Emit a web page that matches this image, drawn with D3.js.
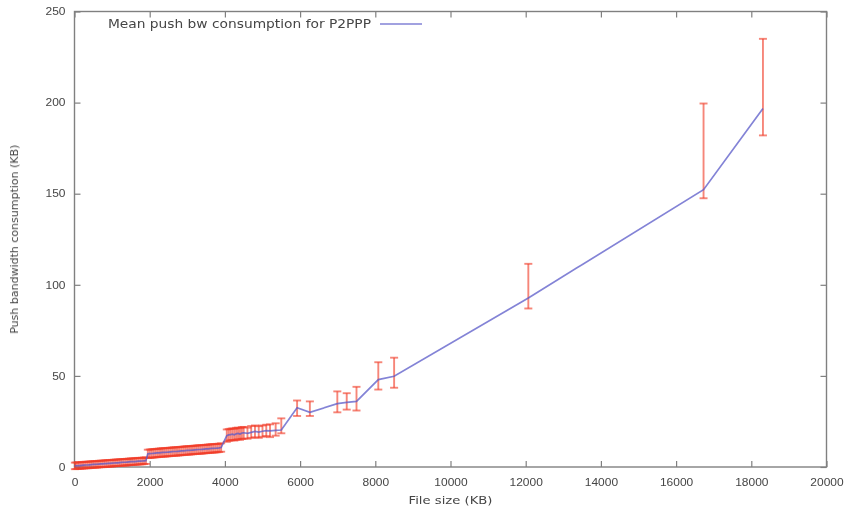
<!DOCTYPE html>
<html>
<head>
<meta charset="utf-8">
<script src="https://cdn.jsdelivr.net/npm/d3@7"></script>
<style>
    body { margin: 0; background: #fff; }
    svg { display: block; font-family: "DejaVu Sans", sans-serif; }
</style>
</head>
<body>
<svg id="chart"></svg>
<script>
// file sizes (KB) and push bandwidth (KB): mean, lower and upper end of the error bar
const fileSize = [
    10, 50, 100, 150, 200, 250, 300, 350, 400, 450, 500, 550, 600, 650, 700, 750, 800, 850, 900, 950,
    1000, 1050, 1100, 1150, 1200, 1250, 1300, 1350, 1400, 1450, 1500, 1550, 1600, 1650, 1700, 1750, 1800, 1850, 1900,
    1950, 2000, 2050, 2100, 2150, 2200, 2250, 2300, 2350, 2400, 2450, 2500, 2550, 2600, 2650, 2700, 2750, 2800, 2850, 2900,
    2950, 3000, 3050, 3100, 3150, 3200, 3250, 3300, 3350, 3400, 3450, 3500, 3550, 3600, 3650, 3700, 3750, 3800, 3850, 3900,
    4050, 4100, 4150, 4200, 4250, 4300, 4350, 4400, 4450, 4500, 4600, 4700, 4800, 4900, 5000, 5100, 5200, 5350, 5500,
    5920, 6260, 6990, 7240, 7500, 8080, 8500, 12070, 16730, 18310
];
const meanBw = [
    0.6, 0.7, 0.8, 0.8, 0.9, 1.0, 1.1, 1.1, 1.2, 1.3, 1.4, 1.4, 1.5, 1.6, 1.7, 1.7, 1.8, 1.9, 2.0, 2.0,
    2.1, 2.2, 2.3, 2.3, 2.4, 2.5, 2.6, 2.6, 2.7, 2.8, 2.9, 2.9, 3.0, 3.1, 3.2, 3.2, 3.3, 3.4, 3.5,
    7.2, 7.3, 7.4, 7.5, 7.6, 7.7, 7.8, 7.9, 8.0, 8.0, 8.1, 8.2, 8.3, 8.4, 8.5, 8.5, 8.6, 8.7, 8.8, 8.9,
    9.0, 9.1, 9.1, 9.2, 9.3, 9.4, 9.5, 9.6, 9.6, 9.7, 9.8, 9.9, 10.0, 10.1, 10.2, 10.2, 10.3, 10.4, 10.5, 10.7,
    17.2, 17.6, 17.8, 18.0, 17.7, 18.2, 18.4, 18.1, 18.6, 18.8, 18.5, 19.0, 19.5, 19.2, 19.6, 20.0, 19.8, 20.1, 20.3,
    32.5, 30.0, 34.8, 35.5, 36.0, 48.0, 49.8, 92.8, 152.2, 196.7
];
const lowBw = [
    -1.2, -1.1, -1.0, -1.0, -0.9, -0.8, -0.7, -0.7, -0.6, -0.5, -0.4, -0.4, -0.3, -0.2, -0.1, -0.1, 0.0, 0.1, 0.2, 0.2,
    0.3, 0.4, 0.5, 0.5, 0.6, 0.7, 0.8, 0.8, 0.9, 1.0, 1.1, 1.1, 1.2, 1.3, 1.4, 1.4, 1.5, 1.6, 1.7,
    4.9, 5.0, 5.1, 5.2, 5.3, 5.4, 5.5, 5.6, 5.7, 5.7, 5.8, 5.9, 6.0, 6.1, 6.2, 6.2, 6.3, 6.4, 6.5, 6.6,
    6.7, 6.8, 6.8, 6.9, 7.0, 7.1, 7.2, 7.3, 7.3, 7.4, 7.5, 7.6, 7.7, 7.8, 7.9, 7.9, 8.0, 8.1, 8.2, 8.4,
    13.8, 14.4, 14.6, 14.8, 14.5, 15.0, 15.2, 14.9, 15.4, 15.6, 15.5, 16.0, 16.3, 16.0, 16.6, 17.0, 16.4, 17.2, 18.5,
    28.0, 28.0, 30.0, 31.5, 31.0, 42.5, 43.5, 87.0, 147.5, 182.0
];
const highBw = [
    2.4, 2.5, 2.6, 2.6, 2.7, 2.8, 2.9, 2.9, 3.0, 3.1, 3.2, 3.2, 3.3, 3.4, 3.5, 3.5, 3.6, 3.7, 3.8, 3.8,
    3.9, 4.0, 4.1, 4.1, 4.2, 4.3, 4.4, 4.4, 4.5, 4.6, 4.7, 4.7, 4.8, 4.9, 5.0, 5.0, 5.1, 5.2, 5.3,
    9.5, 9.6, 9.7, 9.8, 9.9, 10.0, 10.1, 10.2, 10.3, 10.3, 10.4, 10.5, 10.6, 10.7, 10.8, 10.8, 10.9, 11.0, 11.1, 11.2,
    11.3, 11.4, 11.4, 11.5, 11.6, 11.7, 11.8, 11.9, 11.9, 12.0, 12.1, 12.2, 12.3, 12.4, 12.5, 12.5, 12.6, 12.7, 12.8, 13.0,
    20.6, 20.8, 21.0, 21.2, 21.0, 21.5, 21.6, 21.3, 21.9, 22.0, 21.6, 22.5, 22.8, 22.4, 22.8, 23.2, 23.4, 24.0, 26.7,
    36.5, 36.0, 41.5, 40.5, 44.0, 57.5, 60.0, 111.5, 199.5, 235.0
];

const xTicks = [0, 2000, 4000, 6000, 8000, 10000, 12000, 14000, 16000, 18000, 20000];
const yTicks = [0, 50, 100, 150, 200, 250];
const seriesName = "Mean push bw consumption for P2PPP";

const width = 855;
const height = 514;
const margin = {top: 11.5, right: 28.5, bottom: 47, left: 74.5};
const stretch = 1.2; // the picture is a bit wider than tall

const points = fileSize.map((s, i) => ({x: s, y: meanBw[i], lo: lowBw[i], hi: highBw[i]}));

const root = d3.select("#chart")
    .attr("width", width)
    .attr("height", height);

// the reference is a soft, slightly blurred scan
root.append("defs").append("filter").attr("id", "soft")
    .append("feGaussianBlur").attr("stdDeviation", 0.45);

const svg = root.append("g").attr("filter", "url(#soft)");

const x = d3.scaleLinear().domain([0, 20000]).range([margin.left, width - margin.right]);
const y = d3.scaleLinear().domain([0, 250]).range([height - margin.bottom, margin.top]);

const tickColor = "#808080";
const textColor = "#454545";

// axes, ticks pointing inwards on all four sides
function styleAxis(g) {
    g.select(".domain").remove();
    g.selectAll(".tick line").attr("stroke", tickColor).attr("stroke-width", 1.2);
    g.selectAll(".tick text")
        .attr("fill", textColor)
        .style("font-size", "10px");
}

svg.append("g")
    .attr("transform", `translate(0,${y(0)})`)
    .call(d3.axisBottom(x).tickValues(xTicks).tickFormat(d3.format("d")).tickSizeInner(-6).tickSizeOuter(0).tickPadding(12))
    .call(styleAxis)
    .call(g => g.selectAll(".tick text").attr("transform", `scale(${stretch},1)`));

svg.append("g")
    .attr("transform", `translate(${x(0)},0)`)
    .call(d3.axisLeft(y).tickValues(yTicks).tickSizeInner(-6).tickSizeOuter(0).tickPadding(7.5))
    .call(styleAxis)
    .call(g => g.selectAll(".tick text").attr("transform", `scale(${stretch},1)`));

svg.append("g")
    .attr("transform", `translate(0,${y(250)})`)
    .call(d3.axisTop(x).tickValues(xTicks).tickFormat("").tickSizeInner(-6).tickSizeOuter(0))
    .call(styleAxis);

svg.append("g")
    .attr("transform", `translate(${x(20000)},0)`)
    .call(d3.axisRight(y).tickValues(yTicks).tickFormat("").tickSizeInner(-6).tickSizeOuter(0))
    .call(styleAxis);

// frame
svg.append("rect")
    .attr("x", x(0))
    .attr("y", y(250))
    .attr("width", x(20000) - x(0))
    .attr("height", y(0) - y(250))
    .attr("fill", "none")
    .attr("stroke", tickColor)
    .attr("stroke-width", 1.4);

// axis titles
svg.append("text")
    .attr("transform", `translate(${(x(0) + x(20000)) / 2},${height - 10}) scale(${stretch},1)`)
    .attr("text-anchor", "middle")
    .attr("fill", textColor)
    .style("font-size", "11px")
    .text("File size (KB)");

svg.append("text")
    .attr("transform", `translate(18,${(y(0) + y(250)) / 2}) rotate(-90)`)
    .attr("text-anchor", "middle")
    .attr("fill", textColor)
    .style("font-size", "11px")
    .text("Push bandwidth consumption (KB)");

// error bars
const errColor = "#f03c28";
const capW = 4;
const bars = svg.append("g")
    .attr("stroke", errColor)
    .attr("stroke-opacity", 0.62)
    .attr("stroke-width", 1.9);

bars.selectAll("g.bar")
    .data(points)
    .join("g")
    .attr("class", "bar")
    .each(function(d) {
        const g = d3.select(this);
        g.append("line")
            .attr("x1", x(d.x)).attr("x2", x(d.x))
            .attr("y1", y(d.lo)).attr("y2", y(d.hi));
        g.append("line")
            .attr("x1", x(d.x) - capW).attr("x2", x(d.x) + capW)
            .attr("y1", y(d.lo)).attr("y2", y(d.lo));
        g.append("line")
            .attr("x1", x(d.x) - capW).attr("x2", x(d.x) + capW)
            .attr("y1", y(d.hi)).attr("y2", y(d.hi));
    });

// mean line
const lineColor = "#5a5ac8";
const line = d3.line().x(d => x(d.x)).y(d => y(d.y));

svg.append("path")
    .datum(points)
    .attr("d", line)
    .attr("fill", "none")
    .attr("stroke", lineColor)
    .attr("stroke-opacity", 0.75)
    .attr("stroke-width", 1.7);

// legend
const legendY = 24;
svg.append("text")
    .attr("transform", `translate(371,${legendY}) scale(${stretch},1)`)
    .attr("dy", "0.35em")
    .attr("text-anchor", "end")
    .attr("fill", textColor)
    .style("font-size", "11.5px")
    .text(seriesName);

svg.append("line")
    .attr("x1", 380).attr("x2", 422)
    .attr("y1", legendY).attr("y2", legendY)
    .attr("stroke", lineColor)
    .attr("stroke-opacity", 0.75)
    .attr("stroke-width", 1.7);
</script>
</body>
</html>
